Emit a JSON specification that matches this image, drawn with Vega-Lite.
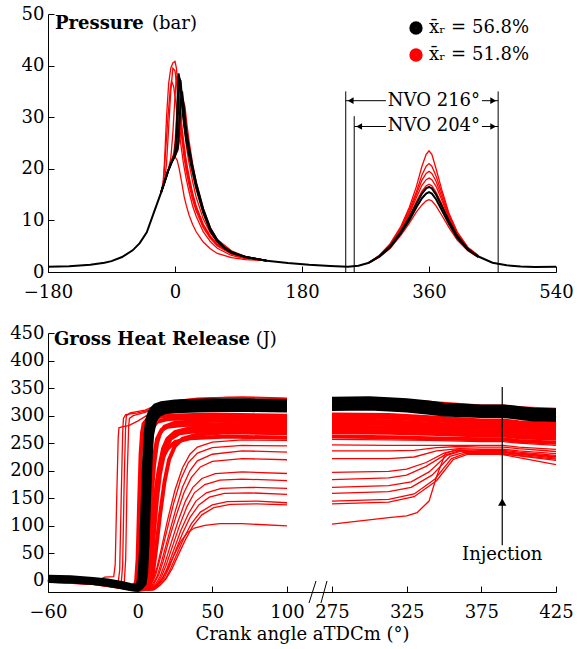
{
"$schema": "https://vega.github.io/schema/vega-lite/v6.json",
"padding": {"left": 9, "top": 5, "right": 5, "bottom": 5},
"spacing": 23,
"config": {
 "view": {"stroke": null},
 "font": "DejaVu Serif",
 "axis": {"grid": false, "labelFont": "DejaVu Serif", "labelFontSize": 18, "labelColor": "black", "domainColor": "black", "tickColor": "black", "tickSize": -6, "titleFont": "DejaVu Serif", "titleFontSize": 18, "titleFontWeight": "normal", "titleColor": "black", "labelFlush": false, "labelOverlap": false},
 "axisY": {"labelPadding": 10},
 "axisX": {"labelPadding": 17, "titlePadding": 4}
},
"datasets": {
"tk": [
{"c":"K1","x":-180,"y":1.0},{"c":"K1","x":-150,"y":1.1},{"c":"K1","x":-120,"y":1.4},{"c":"K1","x":-100,"y":1.8},{"c":"K1","x":-90,"y":2.1},{"c":"K1","x":-75,"y":2.9},{"c":"K1","x":-60,"y":4.2},{"c":"K1","x":-50,"y":5.6},{"c":"K1","x":-40,"y":7.7},{"c":"K1","x":-30,"y":11.5},{"c":"K1","x":-25,"y":13.4},{"c":"K1","x":-20,"y":15.3},
{"c":"K2","x":130,"y":2.2},{"c":"K2","x":160,"y":1.75},{"c":"K2","x":190,"y":1.4},{"c":"K2","x":220,"y":1.15},{"c":"K2","x":245,"y":1.0},{"c":"K2","x":260,"y":1.2},{"c":"K2","x":275,"y":1.8},
{"c":"K3","x":430,"y":3.0},{"c":"K3","x":450,"y":1.8},{"c":"K3","x":470,"y":1.3},{"c":"K3","x":490,"y":1.05},{"c":"K3","x":510,"y":0.95},{"c":"K3","x":540,"y":1.0}
],
"tr": [
{"c":"R1","x":-20,"y":15.3},{"c":"R1","x":-17,"y":17},{"c":"R1","x":-15,"y":21},{"c":"R1","x":-12,"y":30},{"c":"R1","x":-9,"y":36.5},{"c":"R1","x":-6,"y":39.5},{"c":"R1","x":-3,"y":40.5},{"c":"R1","x":0,"y":40.8},{"c":"R1","x":2,"y":39.5},{"c":"R1","x":4,"y":36},{"c":"R1","x":6,"y":32},{"c":"R1","x":8,"y":29},{"c":"R1","x":10,"y":26.3},{"c":"R1","x":13,"y":23},{"c":"R1","x":16,"y":20.3},{"c":"R1","x":20,"y":17.5},{"c":"R1","x":25,"y":14.7},{"c":"R1","x":30,"y":12.4},{"c":"R1","x":40,"y":9},{"c":"R1","x":50,"y":6.8},{"c":"R1","x":60,"y":5.3},{"c":"R1","x":80,"y":3.6},{"c":"R1","x":100,"y":2.8},{"c":"R1","x":130,"y":2.2},
{"c":"R2","x":-20,"y":15.3},{"c":"R2","x":-15,"y":17.5},{"c":"R2","x":-12,"y":21},{"c":"R2","x":-9,"y":28},{"c":"R2","x":-6,"y":35},{"c":"R2","x":-3,"y":39.5},{"c":"R2","x":0,"y":39},{"c":"R2","x":3,"y":35.5},{"c":"R2","x":6,"y":31},{"c":"R2","x":10,"y":25.5},{"c":"R2","x":13,"y":22},{"c":"R2","x":16,"y":19.5},{"c":"R2","x":20,"y":16.8},{"c":"R2","x":25,"y":14},{"c":"R2","x":30,"y":11.8},{"c":"R2","x":40,"y":8.6},{"c":"R2","x":50,"y":6.5},{"c":"R2","x":60,"y":5.1},{"c":"R2","x":80,"y":3.5},{"c":"R2","x":100,"y":2.7},{"c":"R2","x":130,"y":2.2},
{"c":"R3","x":-20,"y":15.3},{"c":"R3","x":-15,"y":17.3},{"c":"R3","x":-10,"y":19.5},{"c":"R3","x":-6,"y":22},{"c":"R3","x":-3,"y":27},{"c":"R3","x":0,"y":34},{"c":"R3","x":2,"y":38},{"c":"R3","x":4,"y":37},{"c":"R3","x":6,"y":34},{"c":"R3","x":10,"y":28},{"c":"R3","x":13,"y":24.5},{"c":"R3","x":16,"y":21.5},{"c":"R3","x":20,"y":18.5},{"c":"R3","x":25,"y":15.3},{"c":"R3","x":30,"y":12.8},{"c":"R3","x":40,"y":9.3},{"c":"R3","x":50,"y":7},{"c":"R3","x":60,"y":5.4},{"c":"R3","x":80,"y":3.7},{"c":"R3","x":100,"y":2.8},{"c":"R3","x":130,"y":2.2},
{"c":"R4","x":-20,"y":15.3},{"c":"R4","x":-15,"y":17.3},{"c":"R4","x":-10,"y":19.5},{"c":"R4","x":-5,"y":21.2},{"c":"R4","x":0,"y":22.5},{"c":"R4","x":4,"y":23.5},{"c":"R4","x":8,"y":27},{"c":"R4","x":10,"y":31},{"c":"R4","x":12,"y":33},{"c":"R4","x":14,"y":32.2},{"c":"R4","x":17,"y":28.5},{"c":"R4","x":20,"y":25.3},{"c":"R4","x":25,"y":21},{"c":"R4","x":30,"y":17.5},{"c":"R4","x":40,"y":12.3},{"c":"R4","x":50,"y":8.6},{"c":"R4","x":60,"y":6.3},{"c":"R4","x":80,"y":4.1},{"c":"R4","x":100,"y":3},{"c":"R4","x":130,"y":2.2},
{"c":"R5","x":-20,"y":15.3},{"c":"R5","x":-15,"y":17.3},{"c":"R5","x":-10,"y":19.5},{"c":"R5","x":-5,"y":21.2},{"c":"R5","x":-2,"y":22},{"c":"R5","x":0,"y":22.3},{"c":"R5","x":3,"y":21.7},{"c":"R5","x":6,"y":20},{"c":"R5","x":10,"y":17},{"c":"R5","x":13,"y":14.6},{"c":"R5","x":16,"y":12.9},{"c":"R5","x":20,"y":11},{"c":"R5","x":25,"y":9.2},{"c":"R5","x":30,"y":7.8},{"c":"R5","x":40,"y":5.8},{"c":"R5","x":50,"y":4.5},{"c":"R5","x":60,"y":3.6},{"c":"R5","x":80,"y":2.8},{"c":"R5","x":100,"y":2.4},{"c":"R5","x":130,"y":2.2},
{"c":"R6","x":-20,"y":15.3},{"c":"R6","x":-15,"y":17.3},{"c":"R6","x":-10,"y":19.5},{"c":"R6","x":-5,"y":21.5},{"c":"R6","x":-2,"y":23},{"c":"R6","x":0,"y":25},{"c":"R6","x":3,"y":31},{"c":"R6","x":6,"y":36},{"c":"R6","x":9,"y":34},{"c":"R6","x":12,"y":29.5},{"c":"R6","x":16,"y":24.5},{"c":"R6","x":20,"y":21},{"c":"R6","x":25,"y":17.5},{"c":"R6","x":30,"y":14.5},{"c":"R6","x":40,"y":10.3},{"c":"R6","x":50,"y":7.6},{"c":"R6","x":60,"y":5.8},{"c":"R6","x":80,"y":3.9},{"c":"R6","x":100,"y":2.9},{"c":"R6","x":130,"y":2.2},
{"c":"R7","x":-20,"y":15.3},{"c":"R7","x":-10,"y":19.5},{"c":"R7","x":-5,"y":21.3},{"c":"R7","x":0,"y":22.6},{"c":"R7","x":3,"y":23.5},{"c":"R7","x":6,"y":26},{"c":"R7","x":8,"y":27},{"c":"R7","x":10,"y":26.5},{"c":"R7","x":13,"y":24},{"c":"R7","x":16,"y":21},{"c":"R7","x":20,"y":18},{"c":"R7","x":25,"y":15},{"c":"R7","x":30,"y":12.5},{"c":"R7","x":40,"y":9},{"c":"R7","x":50,"y":6.7},{"c":"R7","x":60,"y":5.1},{"c":"R7","x":80,"y":3.5},{"c":"R7","x":100,"y":2.7},{"c":"R7","x":130,"y":2.2},
{"c":"R8","x":-20,"y":15.3},{"c":"R8","x":-16,"y":18},{"c":"R8","x":-13,"y":24},{"c":"R8","x":-10,"y":30},{"c":"R8","x":-7,"y":35},{"c":"R8","x":-5,"y":37},{"c":"R8","x":-2,"y":36},{"c":"R8","x":1,"y":33},{"c":"R8","x":4,"y":29.5},{"c":"R8","x":8,"y":25},{"c":"R8","x":12,"y":21},{"c":"R8","x":16,"y":18},{"c":"R8","x":20,"y":15.5},{"c":"R8","x":25,"y":12.8},{"c":"R8","x":30,"y":10.8},{"c":"R8","x":40,"y":7.8},{"c":"R8","x":50,"y":5.9},{"c":"R8","x":60,"y":4.6},{"c":"R8","x":80,"y":3.2},{"c":"R8","x":100,"y":2.6},{"c":"R8","x":130,"y":2.2},
{"c":"N1","x":275,"y":1.8},{"c":"N1","x":290,"y":3.3},{"c":"N1","x":305,"y":5.5},{"c":"N1","x":320,"y":8.8},{"c":"N1","x":332,"y":12.5},{"c":"N1","x":342,"y":16.5},{"c":"N1","x":350,"y":20.5},{"c":"N1","x":356,"y":22.8},{"c":"N1","x":360,"y":23.5},{"c":"N1","x":364,"y":22.8},{"c":"N1","x":370,"y":20},{"c":"N1","x":378,"y":16},{"c":"N1","x":388,"y":11.5},{"c":"N1","x":400,"y":7.8},{"c":"N1","x":415,"y":4.8},{"c":"N1","x":430,"y":3.2},
{"c":"N2","x":275,"y":1.8},{"c":"N2","x":290,"y":3.2},{"c":"N2","x":305,"y":5.3},{"c":"N2","x":320,"y":8.5},{"c":"N2","x":332,"y":12},{"c":"N2","x":342,"y":15.5},{"c":"N2","x":350,"y":18.8},{"c":"N2","x":356,"y":20.5},{"c":"N2","x":360,"y":21},{"c":"N2","x":364,"y":20.5},{"c":"N2","x":370,"y":18.6},{"c":"N2","x":378,"y":15.3},{"c":"N2","x":388,"y":11.2},{"c":"N2","x":400,"y":7.5},{"c":"N2","x":415,"y":4.7},{"c":"N2","x":430,"y":3.1},
{"c":"N3","x":275,"y":1.8},{"c":"N3","x":290,"y":3.2},{"c":"N3","x":305,"y":5.2},{"c":"N3","x":320,"y":8.3},{"c":"N3","x":332,"y":11.5},{"c":"N3","x":342,"y":15},{"c":"N3","x":350,"y":17.8},{"c":"N3","x":356,"y":19.1},{"c":"N3","x":360,"y":19.5},{"c":"N3","x":364,"y":19.1},{"c":"N3","x":370,"y":17.6},{"c":"N3","x":378,"y":14.6},{"c":"N3","x":388,"y":10.8},{"c":"N3","x":400,"y":7.3},{"c":"N3","x":415,"y":4.6},{"c":"N3","x":430,"y":3.1},
{"c":"N4","x":275,"y":1.8},{"c":"N4","x":290,"y":3.1},{"c":"N4","x":305,"y":5.1},{"c":"N4","x":320,"y":8.1},{"c":"N4","x":332,"y":11.2},{"c":"N4","x":342,"y":14.4},{"c":"N4","x":350,"y":16.8},{"c":"N4","x":356,"y":17.9},{"c":"N4","x":360,"y":18.2},{"c":"N4","x":364,"y":17.9},{"c":"N4","x":370,"y":16.6},{"c":"N4","x":378,"y":14},{"c":"N4","x":388,"y":10.5},{"c":"N4","x":400,"y":7.2},{"c":"N4","x":415,"y":4.6},{"c":"N4","x":430,"y":3.1},
{"c":"N5","x":275,"y":1.8},{"c":"N5","x":290,"y":3.1},{"c":"N5","x":305,"y":5},{"c":"N5","x":320,"y":7.9},{"c":"N5","x":332,"y":10.7},{"c":"N5","x":342,"y":13.6},{"c":"N5","x":350,"y":15.7},{"c":"N5","x":356,"y":16.7},{"c":"N5","x":360,"y":17},{"c":"N5","x":364,"y":16.7},{"c":"N5","x":370,"y":15.5},{"c":"N5","x":378,"y":13.2},{"c":"N5","x":388,"y":10.1},{"c":"N5","x":400,"y":7},{"c":"N5","x":415,"y":4.5},{"c":"N5","x":430,"y":3},
{"c":"N6","x":275,"y":1.8},{"c":"N6","x":290,"y":2.9},{"c":"N6","x":305,"y":4.6},{"c":"N6","x":320,"y":7.1},{"c":"N6","x":332,"y":9.4},{"c":"N6","x":342,"y":11.6},{"c":"N6","x":350,"y":13},{"c":"N6","x":356,"y":13.8},{"c":"N6","x":360,"y":14},{"c":"N6","x":364,"y":13.8},{"c":"N6","x":370,"y":12.8},{"c":"N6","x":378,"y":11},{"c":"N6","x":388,"y":8.7},{"c":"N6","x":400,"y":6.2},{"c":"N6","x":415,"y":4.1},{"c":"N6","x":430,"y":2.8}
],
"tb": [
{"c":"B1","x":-20,"y":15.3},{"c":"B1","x":-15,"y":17.3},{"c":"B1","x":-10,"y":19.5},{"c":"B1","x":-5,"y":21.2},{"c":"B1","x":-2,"y":22},{"c":"B1","x":0,"y":22.5},{"c":"B1","x":2,"y":24},{"c":"B1","x":4,"y":30},{"c":"B1","x":6,"y":37.5},{"c":"B1","x":8,"y":37},{"c":"B1","x":10,"y":33.5},{"c":"B1","x":13,"y":29},{"c":"B1","x":16,"y":26},{"c":"B1","x":20,"y":23.5},{"c":"B1","x":25,"y":20},{"c":"B1","x":30,"y":16.8},{"c":"B1","x":40,"y":11.8},{"c":"B1","x":50,"y":8.2},{"c":"B1","x":60,"y":6},{"c":"B1","x":70,"y":4.6},{"c":"B1","x":80,"y":3.8},{"c":"B1","x":100,"y":2.9},{"c":"B1","x":130,"y":2.2},
{"c":"B2","x":-20,"y":15.3},{"c":"B2","x":-10,"y":19.5},{"c":"B2","x":-5,"y":21.2},{"c":"B2","x":0,"y":22.5},{"c":"B2","x":4,"y":24},{"c":"B2","x":6,"y":28},{"c":"B2","x":8,"y":33},{"c":"B2","x":10,"y":35},{"c":"B2","x":13,"y":31.5},{"c":"B2","x":16,"y":27.5},{"c":"B2","x":20,"y":24},{"c":"B2","x":25,"y":20.3},{"c":"B2","x":30,"y":17.2},{"c":"B2","x":40,"y":12.2},{"c":"B2","x":50,"y":8.5},{"c":"B2","x":60,"y":6.2},{"c":"B2","x":70,"y":4.8},{"c":"B2","x":80,"y":3.9},{"c":"B2","x":100,"y":2.9},{"c":"B2","x":130,"y":2.2},
{"c":"B3","x":-20,"y":15.3},{"c":"B3","x":-10,"y":19.5},{"c":"B3","x":-5,"y":21.3},{"c":"B3","x":0,"y":23},{"c":"B3","x":2,"y":27},{"c":"B3","x":4,"y":35},{"c":"B3","x":5,"y":38.5},{"c":"B3","x":7,"y":37},{"c":"B3","x":10,"y":32.5},{"c":"B3","x":13,"y":28.5},{"c":"B3","x":16,"y":25.5},{"c":"B3","x":20,"y":22.5},{"c":"B3","x":25,"y":19.3},{"c":"B3","x":30,"y":16.3},{"c":"B3","x":40,"y":11.5},{"c":"B3","x":50,"y":8},{"c":"B3","x":60,"y":5.9},{"c":"B3","x":70,"y":4.6},{"c":"B3","x":80,"y":3.7},{"c":"B3","x":100,"y":2.9},{"c":"B3","x":130,"y":2.2},
{"c":"BN1","x":275,"y":1.8},{"c":"BN1","x":290,"y":3.1},{"c":"BN1","x":305,"y":5},{"c":"BN1","x":320,"y":7.8},{"c":"BN1","x":332,"y":10.5},{"c":"BN1","x":342,"y":13.2},{"c":"BN1","x":350,"y":15.2},{"c":"BN1","x":356,"y":16.2},{"c":"BN1","x":360,"y":16.5},{"c":"BN1","x":364,"y":16.2},{"c":"BN1","x":370,"y":15},{"c":"BN1","x":378,"y":12.8},{"c":"BN1","x":388,"y":10},{"c":"BN1","x":400,"y":7},{"c":"BN1","x":415,"y":4.5},{"c":"BN1","x":430,"y":3},
{"c":"BN2","x":275,"y":1.8},{"c":"BN2","x":290,"y":3},{"c":"BN2","x":305,"y":4.8},{"c":"BN2","x":320,"y":7.5},{"c":"BN2","x":332,"y":10},{"c":"BN2","x":342,"y":12.5},{"c":"BN2","x":350,"y":14.3},{"c":"BN2","x":356,"y":15.2},{"c":"BN2","x":360,"y":15.5},{"c":"BN2","x":364,"y":15.2},{"c":"BN2","x":370,"y":14.1},{"c":"BN2","x":378,"y":12},{"c":"BN2","x":388,"y":9.4},{"c":"BN2","x":400,"y":6.6},{"c":"BN2","x":415,"y":4.3},{"c":"BN2","x":430,"y":2.9}
],
"bb": [
{"c":"B1a","x":-60,"y":6},{"c":"B1a","x":-45,"y":5},{"c":"B1a","x":-30,"y":2},{"c":"B1a","x":-20,"y":-1},{"c":"B1a","x":-10,"y":-6},{"c":"B1a","x":-5,"y":-9},{"c":"B1a","x":-2,"y":-10},{"c":"B1a","x":0,"y":-9},{"c":"B1a","x":1,"y":-5},{"c":"B1a","x":2,"y":10},{"c":"B1a","x":3,"y":60},{"c":"B1a","x":4,"y":140},{"c":"B1a","x":5,"y":215},{"c":"B1a","x":6,"y":265},{"c":"B1a","x":7,"y":292},{"c":"B1a","x":9,"y":308},{"c":"B1a","x":12,"y":317},{"c":"B1a","x":16,"y":321},{"c":"B1a","x":25,"y":324},{"c":"B1a","x":50,"y":326},{"c":"B1a","x":75,"y":326},{"c":"B1a","x":100,"y":325},
{"c":"B2a","x":-60,"y":4},{"c":"B2a","x":-45,"y":3},{"c":"B2a","x":-30,"y":0},{"c":"B2a","x":-20,"y":-3},{"c":"B2a","x":-10,"y":-8},{"c":"B2a","x":-5,"y":-11},{"c":"B2a","x":-2,"y":-12},{"c":"B2a","x":0,"y":-11},{"c":"B2a","x":2,"y":-6},{"c":"B2a","x":3,"y":5},{"c":"B2a","x":4,"y":40},{"c":"B2a","x":5,"y":110},{"c":"B2a","x":6,"y":190},{"c":"B2a","x":7,"y":250},{"c":"B2a","x":8,"y":283},{"c":"B2a","x":10,"y":302},{"c":"B2a","x":13,"y":311},{"c":"B2a","x":17,"y":315},{"c":"B2a","x":25,"y":317},{"c":"B2a","x":50,"y":319},{"c":"B2a","x":75,"y":318},{"c":"B2a","x":100,"y":318},
{"c":"B3a","x":-60,"y":2},{"c":"B3a","x":-45,"y":1},{"c":"B3a","x":-30,"y":-2},{"c":"B3a","x":-20,"y":-5},{"c":"B3a","x":-10,"y":-10},{"c":"B3a","x":-5,"y":-13},{"c":"B3a","x":-2,"y":-14},{"c":"B3a","x":0,"y":-14},{"c":"B3a","x":2,"y":-11},{"c":"B3a","x":4,"y":-4},{"c":"B3a","x":5,"y":15},{"c":"B3a","x":6,"y":70},{"c":"B3a","x":7,"y":150},{"c":"B3a","x":8,"y":220},{"c":"B3a","x":9,"y":265},{"c":"B3a","x":11,"y":292},{"c":"B3a","x":14,"y":303},{"c":"B3a","x":18,"y":308},{"c":"B3a","x":25,"y":310},{"c":"B3a","x":50,"y":312},{"c":"B3a","x":75,"y":312},{"c":"B3a","x":100,"y":311},
{"c":"B1b","x":275,"y":329},{"c":"B1b","x":300,"y":330},{"c":"B1b","x":313,"y":328},{"c":"B1b","x":325,"y":326},{"c":"B1b","x":340,"y":322},{"c":"B1b","x":350,"y":318},{"c":"B1b","x":375,"y":315},{"c":"B1b","x":390,"y":315},{"c":"B1b","x":400,"y":312},{"c":"B1b","x":410,"y":309},{"c":"B1b","x":425,"y":308},
{"c":"B2b","x":275,"y":321},{"c":"B2b","x":300,"y":322},{"c":"B2b","x":313,"y":320},{"c":"B2b","x":325,"y":318},{"c":"B2b","x":340,"y":314},{"c":"B2b","x":350,"y":311},{"c":"B2b","x":375,"y":308},{"c":"B2b","x":390,"y":308},{"c":"B2b","x":400,"y":305},{"c":"B2b","x":410,"y":302},{"c":"B2b","x":425,"y":301},
{"c":"B3b","x":275,"y":314},{"c":"B3b","x":300,"y":315},{"c":"B3b","x":313,"y":313},{"c":"B3b","x":325,"y":311},{"c":"B3b","x":340,"y":307},{"c":"B3b","x":350,"y":304},{"c":"B3b","x":375,"y":301},{"c":"B3b","x":390,"y":301},{"c":"B3b","x":400,"y":298},{"c":"B3b","x":410,"y":295},{"c":"B3b","x":425,"y":294}
],
"br": [
{"c":"E1a","x":-60,"y":8},{"c":"E1a","x":-40,"y":6},{"c":"E1a","x":-25,"y":3},{"c":"E1a","x":-22,"y":7},{"c":"E1a","x":-16,"y":8},{"c":"E1a","x":-15,"y":30},{"c":"E1a","x":-14,"y":150},{"c":"E1a","x":-13,"y":260},{"c":"E1a","x":-12.5,"y":278},{"c":"E1a","x":-10,"y":280},{"c":"E1a","x":-6,"y":282},{"c":"E1a","x":0,"y":290},{"c":"E1a","x":6,"y":300},{"c":"E1a","x":12,"y":315},{"c":"E1a","x":20,"y":325},{"c":"E1a","x":40,"y":332},{"c":"E1a","x":70,"y":334},{"c":"E1a","x":100,"y":332},
{"c":"E2a","x":-60,"y":7},{"c":"E2a","x":-40,"y":5},{"c":"E2a","x":-20,"y":0},{"c":"E2a","x":-13,"y":-2},{"c":"E2a","x":-12,"y":20},{"c":"E2a","x":-11,"y":150},{"c":"E2a","x":-10,"y":270},{"c":"E2a","x":-9.5,"y":295},{"c":"E2a","x":-8,"y":302},{"c":"E2a","x":0,"y":305},{"c":"E2a","x":8,"y":310},{"c":"E2a","x":15,"y":318},{"c":"E2a","x":30,"y":324},{"c":"E2a","x":60,"y":327},{"c":"E2a","x":100,"y":326},
{"c":"E3a","x":-60,"y":5},{"c":"E3a","x":-40,"y":3},{"c":"E3a","x":-20,"y":-2},{"c":"E3a","x":-11,"y":-5},{"c":"E3a","x":-10,"y":30},{"c":"E3a","x":-9,"y":180},{"c":"E3a","x":-8,"y":285},{"c":"E3a","x":-7.5,"y":300},{"c":"E3a","x":-5,"y":305},{"c":"E3a","x":5,"y":310},{"c":"E3a","x":15,"y":322},{"c":"E3a","x":30,"y":329},{"c":"E3a","x":60,"y":333},{"c":"E3a","x":100,"y":331},
{"c":"E4a","x":-60,"y":6},{"c":"E4a","x":-40,"y":4},{"c":"E4a","x":-20,"y":-1},{"c":"E4a","x":-9,"y":-6},{"c":"E4a","x":-8,"y":40},{"c":"E4a","x":-7,"y":190},{"c":"E4a","x":-6,"y":280},{"c":"E4a","x":-5.5,"y":295},{"c":"E4a","x":-3,"y":300},{"c":"E4a","x":5,"y":306},{"c":"E4a","x":15,"y":318},{"c":"E4a","x":30,"y":324},{"c":"E4a","x":60,"y":327},{"c":"E4a","x":100,"y":326},
{"c":"M6a","x":-60,"y":3},{"c":"M6a","x":-30,"y":-1},{"c":"M6a","x":-10,"y":-8},{"c":"M6a","x":-5,"y":-11},{"c":"M6a","x":0,"y":-12},{"c":"M6a","x":2,"y":-6},{"c":"M6a","x":4,"y":20},{"c":"M6a","x":5,"y":80},{"c":"M6a","x":6,"y":160},{"c":"M6a","x":7,"y":220},{"c":"M6a","x":8,"y":255},{"c":"M6a","x":10,"y":278},{"c":"M6a","x":13,"y":289},{"c":"M6a","x":20,"y":294},{"c":"M6a","x":50,"y":296},{"c":"M6a","x":100,"y":295},
{"c":"M1a","x":-60,"y":3},{"c":"M1a","x":-30,"y":0},{"c":"M1a","x":-10,"y":-7},{"c":"M1a","x":-5,"y":-10},{"c":"M1a","x":-2,"y":-10},{"c":"M1a","x":-1,"y":0},{"c":"M1a","x":0,"y":40},{"c":"M1a","x":1,"y":140},{"c":"M1a","x":2,"y":230},{"c":"M1a","x":3,"y":270},{"c":"M1a","x":4,"y":285},{"c":"M1a","x":6,"y":292},{"c":"M1a","x":10,"y":296},{"c":"M1a","x":20,"y":300},{"c":"M1a","x":50,"y":302},{"c":"M1a","x":100,"y":300},
{"c":"M2a","x":-60,"y":3},{"c":"M2a","x":-30,"y":-1},{"c":"M2a","x":-10,"y":-9},{"c":"M2a","x":-5,"y":-12},{"c":"M2a","x":0,"y":-13},{"c":"M2a","x":3,"y":-10},{"c":"M2a","x":5,"y":0},{"c":"M2a","x":7,"y":50},{"c":"M2a","x":9,"y":140},{"c":"M2a","x":11,"y":210},{"c":"M2a","x":13,"y":250},{"c":"M2a","x":15,"y":268},{"c":"M2a","x":18,"y":280},{"c":"M2a","x":25,"y":287},{"c":"M2a","x":40,"y":290},{"c":"M2a","x":60,"y":291},{"c":"M2a","x":100,"y":289},
{"c":"M7a","x":-60,"y":3},{"c":"M7a","x":-30,"y":-1},{"c":"M7a","x":-10,"y":-9},{"c":"M7a","x":-5,"y":-12},{"c":"M7a","x":0,"y":-13},{"c":"M7a","x":3,"y":-9},{"c":"M7a","x":5,"y":5},{"c":"M7a","x":7,"y":70},{"c":"M7a","x":9,"y":160},{"c":"M7a","x":11,"y":225},{"c":"M7a","x":13,"y":258},{"c":"M7a","x":16,"y":274},{"c":"M7a","x":20,"y":280},{"c":"M7a","x":30,"y":283},{"c":"M7a","x":60,"y":285},{"c":"M7a","x":100,"y":284},
{"c":"M3a","x":-60,"y":4},{"c":"M3a","x":-30,"y":0},{"c":"M3a","x":-10,"y":-9},{"c":"M3a","x":-5,"y":-13},{"c":"M3a","x":0,"y":-15},{"c":"M3a","x":4,"y":-12},{"c":"M3a","x":6,"y":-5},{"c":"M3a","x":8,"y":20},{"c":"M3a","x":10,"y":80},{"c":"M3a","x":12,"y":150},{"c":"M3a","x":14,"y":200},{"c":"M3a","x":17,"y":240},{"c":"M3a","x":20,"y":258},{"c":"M3a","x":25,"y":270},{"c":"M3a","x":35,"y":277},{"c":"M3a","x":60,"y":280},{"c":"M3a","x":100,"y":278},
{"c":"M8a","x":-60,"y":2},{"c":"M8a","x":-30,"y":-2},{"c":"M8a","x":-10,"y":-10},{"c":"M8a","x":0,"y":-14},{"c":"M8a","x":4,"y":-12},{"c":"M8a","x":7,"y":-3},{"c":"M8a","x":9,"y":25},{"c":"M8a","x":11,"y":90},{"c":"M8a","x":13,"y":150},{"c":"M8a","x":15,"y":195},{"c":"M8a","x":18,"y":235},{"c":"M8a","x":22,"y":258},{"c":"M8a","x":28,"y":268},{"c":"M8a","x":40,"y":272},{"c":"M8a","x":60,"y":274},{"c":"M8a","x":100,"y":273},
{"c":"M4a","x":-60,"y":2},{"c":"M4a","x":-30,"y":-2},{"c":"M4a","x":-10,"y":-10},{"c":"M4a","x":-5,"y":-13},{"c":"M4a","x":0,"y":-15},{"c":"M4a","x":5,"y":-14},{"c":"M4a","x":8,"y":-5},{"c":"M4a","x":10,"y":10},{"c":"M4a","x":12,"y":50},{"c":"M4a","x":15,"y":120},{"c":"M4a","x":18,"y":180},{"c":"M4a","x":21,"y":220},{"c":"M4a","x":25,"y":245},{"c":"M4a","x":30,"y":258},{"c":"M4a","x":40,"y":266},{"c":"M4a","x":60,"y":270},{"c":"M4a","x":100,"y":268},
{"c":"M5a","x":-60,"y":2},{"c":"M5a","x":-30,"y":-2},{"c":"M5a","x":-10,"y":-10},{"c":"M5a","x":0,"y":-13},{"c":"M5a","x":4,"y":-6},{"c":"M5a","x":6,"y":10},{"c":"M5a","x":8,"y":60},{"c":"M5a","x":10,"y":120},{"c":"M5a","x":13,"y":180},{"c":"M5a","x":16,"y":220},{"c":"M5a","x":20,"y":240},{"c":"M5a","x":25,"y":252},{"c":"M5a","x":35,"y":259},{"c":"M5a","x":60,"y":262},{"c":"M5a","x":100,"y":260},
{"c":"S1a","x":-60,"y":2},{"c":"S1a","x":-30,"y":-2},{"c":"S1a","x":-10,"y":-10},{"c":"S1a","x":0,"y":-16},{"c":"S1a","x":5,"y":-16},{"c":"S1a","x":8,"y":-10},{"c":"S1a","x":10,"y":0},{"c":"S1a","x":13,"y":25},{"c":"S1a","x":16,"y":60},{"c":"S1a","x":20,"y":110},{"c":"S1a","x":25,"y":165},{"c":"S1a","x":30,"y":205},{"c":"S1a","x":35,"y":230},{"c":"S1a","x":40,"y":243},{"c":"S1a","x":50,"y":252},{"c":"S1a","x":70,"y":256},{"c":"S1a","x":100,"y":255},
{"c":"S2a","x":-60,"y":1},{"c":"S2a","x":-30,"y":-3},{"c":"S2a","x":-10,"y":-11},{"c":"S2a","x":0,"y":-16},{"c":"S2a","x":6,"y":-14},{"c":"S2a","x":9,"y":-6},{"c":"S2a","x":12,"y":10},{"c":"S2a","x":15,"y":40},{"c":"S2a","x":19,"y":85},{"c":"S2a","x":24,"y":140},{"c":"S2a","x":29,"y":185},{"c":"S2a","x":34,"y":215},{"c":"S2a","x":40,"y":232},{"c":"S2a","x":50,"y":242},{"c":"S2a","x":70,"y":246},{"c":"S2a","x":100,"y":245},
{"c":"S3a","x":-60,"y":1},{"c":"S3a","x":-30,"y":-3},{"c":"S3a","x":-10,"y":-11},{"c":"S3a","x":0,"y":-16},{"c":"S3a","x":7,"y":-14},{"c":"S3a","x":10,"y":-6},{"c":"S3a","x":13,"y":8},{"c":"S3a","x":16,"y":35},{"c":"S3a","x":20,"y":75},{"c":"S3a","x":25,"y":125},{"c":"S3a","x":30,"y":170},{"c":"S3a","x":35,"y":200},{"c":"S3a","x":40,"y":218},{"c":"S3a","x":50,"y":230},{"c":"S3a","x":70,"y":236},{"c":"S3a","x":100,"y":234},
{"c":"S4a","x":-60,"y":0},{"c":"S4a","x":-30,"y":-4},{"c":"S4a","x":-10,"y":-12},{"c":"S4a","x":0,"y":-17},{"c":"S4a","x":8,"y":-14},{"c":"S4a","x":11,"y":-5},{"c":"S4a","x":14,"y":10},{"c":"S4a","x":17,"y":35},{"c":"S4a","x":21,"y":75},{"c":"S4a","x":26,"y":120},{"c":"S4a","x":31,"y":160},{"c":"S4a","x":36,"y":188},{"c":"S4a","x":42,"y":207},{"c":"S4a","x":50,"y":217},{"c":"S4a","x":70,"y":222},{"c":"S4a","x":100,"y":220},
{"c":"S5a","x":-60,"y":0},{"c":"S5a","x":-30,"y":-4},{"c":"S5a","x":-10,"y":-12},{"c":"S5a","x":0,"y":-17},{"c":"S5a","x":8,"y":-15},{"c":"S5a","x":12,"y":-6},{"c":"S5a","x":15,"y":8},{"c":"S5a","x":18,"y":30},{"c":"S5a","x":22,"y":65},{"c":"S5a","x":27,"y":108},{"c":"S5a","x":32,"y":145},{"c":"S5a","x":37,"y":170},{"c":"S5a","x":43,"y":186},{"c":"S5a","x":52,"y":195},{"c":"S5a","x":70,"y":198},{"c":"S5a","x":100,"y":195},
{"c":"S6a","x":-60,"y":0},{"c":"S6a","x":-30,"y":-4},{"c":"S6a","x":-10,"y":-12},{"c":"S6a","x":0,"y":-17},{"c":"S6a","x":9,"y":-15},{"c":"S6a","x":13,"y":-6},{"c":"S6a","x":16,"y":8},{"c":"S6a","x":19,"y":28},{"c":"S6a","x":23,"y":60},{"c":"S6a","x":28,"y":100},{"c":"S6a","x":33,"y":135},{"c":"S6a","x":38,"y":160},{"c":"S6a","x":45,"y":175},{"c":"S6a","x":55,"y":183},{"c":"S6a","x":70,"y":185},{"c":"S6a","x":100,"y":182},
{"c":"S7a","x":-60,"y":-1},{"c":"S7a","x":-30,"y":-5},{"c":"S7a","x":-10,"y":-13},{"c":"S7a","x":0,"y":-17},{"c":"S7a","x":9,"y":-15},{"c":"S7a","x":13,"y":-7},{"c":"S7a","x":17,"y":6},{"c":"S7a","x":20,"y":25},{"c":"S7a","x":24,"y":55},{"c":"S7a","x":29,"y":92},{"c":"S7a","x":34,"y":122},{"c":"S7a","x":39,"y":145},{"c":"S7a","x":46,"y":160},{"c":"S7a","x":56,"y":168},{"c":"S7a","x":75,"y":170},{"c":"S7a","x":100,"y":168},
{"c":"S8a","x":-60,"y":-1},{"c":"S8a","x":-30,"y":-5},{"c":"S8a","x":-10,"y":-13},{"c":"S8a","x":0,"y":-18},{"c":"S8a","x":10,"y":-15},{"c":"S8a","x":14,"y":-7},{"c":"S8a","x":18,"y":6},{"c":"S8a","x":21,"y":24},{"c":"S8a","x":25,"y":52},{"c":"S8a","x":30,"y":86},{"c":"S8a","x":35,"y":115},{"c":"S8a","x":41,"y":138},{"c":"S8a","x":48,"y":152},{"c":"S8a","x":58,"y":159},{"c":"S8a","x":75,"y":160},{"c":"S8a","x":100,"y":157},
{"c":"S9a","x":-60,"y":-1},{"c":"S9a","x":-30,"y":-5},{"c":"S9a","x":-10,"y":-13},{"c":"S9a","x":0,"y":-18},{"c":"S9a","x":10,"y":-16},{"c":"S9a","x":15,"y":-7},{"c":"S9a","x":19,"y":5},{"c":"S9a","x":22,"y":22},{"c":"S9a","x":26,"y":47},{"c":"S9a","x":31,"y":78},{"c":"S9a","x":36,"y":104},{"c":"S9a","x":42,"y":125},{"c":"S9a","x":50,"y":138},{"c":"S9a","x":60,"y":144},{"c":"S9a","x":80,"y":145},{"c":"S9a","x":100,"y":142},
{"c":"S10a","x":-60,"y":-2},{"c":"S10a","x":-30,"y":-6},{"c":"S10a","x":-10,"y":-14},{"c":"S10a","x":0,"y":-18},{"c":"S10a","x":11,"y":-16},{"c":"S10a","x":15,"y":-8},{"c":"S10a","x":19,"y":4},{"c":"S10a","x":23,"y":22},{"c":"S10a","x":27,"y":46},{"c":"S10a","x":32,"y":75},{"c":"S10a","x":37,"y":100},{"c":"S10a","x":43,"y":120},{"c":"S10a","x":51,"y":133},{"c":"S10a","x":62,"y":139},{"c":"S10a","x":80,"y":140},{"c":"S10a","x":100,"y":138},
{"c":"S11a","x":-60,"y":-2},{"c":"S11a","x":-30,"y":-6},{"c":"S11a","x":-10,"y":-14},{"c":"S11a","x":0,"y":-18},{"c":"S11a","x":4,"y":-17},{"c":"S11a","x":10,"y":-12},{"c":"S11a","x":15,"y":-2},{"c":"S11a","x":20,"y":22},{"c":"S11a","x":25,"y":50},{"c":"S11a","x":29,"y":72},{"c":"S11a","x":33,"y":87},{"c":"S11a","x":38,"y":96},{"c":"S11a","x":45,"y":101},{"c":"S11a","x":55,"y":104},{"c":"S11a","x":70,"y":104},{"c":"S11a","x":100,"y":100},
{"c":"E1b","x":275,"y":332},{"c":"E1b","x":313,"y":331},{"c":"E1b","x":340,"y":326},{"c":"E1b","x":375,"y":319},{"c":"E1b","x":390,"y":319},{"c":"E1b","x":400,"y":316},{"c":"E1b","x":425,"y":313},
{"c":"E2b","x":275,"y":328},{"c":"E2b","x":313,"y":327},{"c":"E2b","x":340,"y":322},{"c":"E2b","x":375,"y":315},{"c":"E2b","x":390,"y":315},{"c":"E2b","x":400,"y":312},{"c":"E2b","x":425,"y":308},
{"c":"E3b","x":275,"y":329},{"c":"E3b","x":313,"y":328},{"c":"E3b","x":340,"y":323},{"c":"E3b","x":375,"y":316},{"c":"E3b","x":390,"y":316},{"c":"E3b","x":400,"y":313},{"c":"E3b","x":425,"y":309},
{"c":"E4b","x":275,"y":327},{"c":"E4b","x":313,"y":326},{"c":"E4b","x":340,"y":321},{"c":"E4b","x":375,"y":314},{"c":"E4b","x":390,"y":314},{"c":"E4b","x":400,"y":311},{"c":"E4b","x":425,"y":307},
{"c":"M6b","x":275,"y":297},{"c":"M6b","x":313,"y":296},{"c":"M6b","x":340,"y":292},{"c":"M6b","x":375,"y":286},{"c":"M6b","x":390,"y":286},{"c":"M6b","x":400,"y":283},{"c":"M6b","x":425,"y":280},
{"c":"M1b","x":275,"y":302},{"c":"M1b","x":313,"y":301},{"c":"M1b","x":340,"y":297},{"c":"M1b","x":375,"y":291},{"c":"M1b","x":390,"y":291},{"c":"M1b","x":400,"y":288},{"c":"M1b","x":425,"y":285},
{"c":"M2b","x":275,"y":291},{"c":"M2b","x":313,"y":290},{"c":"M2b","x":340,"y":286},{"c":"M2b","x":375,"y":281},{"c":"M2b","x":390,"y":281},{"c":"M2b","x":400,"y":278},{"c":"M2b","x":425,"y":275},
{"c":"M7b","x":275,"y":286},{"c":"M7b","x":313,"y":285},{"c":"M7b","x":340,"y":281},{"c":"M7b","x":375,"y":276},{"c":"M7b","x":390,"y":276},{"c":"M7b","x":400,"y":273},{"c":"M7b","x":425,"y":270},
{"c":"M3b","x":275,"y":280},{"c":"M3b","x":313,"y":279},{"c":"M3b","x":340,"y":276},{"c":"M3b","x":375,"y":272},{"c":"M3b","x":390,"y":272},{"c":"M3b","x":400,"y":269},{"c":"M3b","x":425,"y":266},
{"c":"M8b","x":275,"y":275},{"c":"M8b","x":313,"y":274},{"c":"M8b","x":340,"y":271},{"c":"M8b","x":375,"y":268},{"c":"M8b","x":390,"y":268},{"c":"M8b","x":400,"y":265},{"c":"M8b","x":425,"y":262},
{"c":"M4b","x":275,"y":270},{"c":"M4b","x":313,"y":269},{"c":"M4b","x":340,"y":267},{"c":"M4b","x":375,"y":264},{"c":"M4b","x":390,"y":264},{"c":"M4b","x":400,"y":261},{"c":"M4b","x":425,"y":258},
{"c":"M5b","x":275,"y":262},{"c":"M5b","x":313,"y":261},{"c":"M5b","x":340,"y":259},{"c":"M5b","x":375,"y":257},{"c":"M5b","x":390,"y":257},{"c":"M5b","x":400,"y":254},{"c":"M5b","x":425,"y":251},
{"c":"S1b","x":275,"y":257},{"c":"S1b","x":313,"y":256},{"c":"S1b","x":340,"y":255},{"c":"S1b","x":375,"y":253},{"c":"S1b","x":390,"y":253},{"c":"S1b","x":400,"y":250},{"c":"S1b","x":425,"y":246},
{"c":"S2b","x":275,"y":247},{"c":"S2b","x":313,"y":246},{"c":"S2b","x":340,"y":246},{"c":"S2b","x":375,"y":246},{"c":"S2b","x":390,"y":246},{"c":"S2b","x":400,"y":243},{"c":"S2b","x":425,"y":239},
{"c":"S3b","x":275,"y":236},{"c":"S3b","x":313,"y":236},{"c":"S3b","x":330,"y":237},{"c":"S3b","x":345,"y":242},{"c":"S3b","x":360,"y":244},{"c":"S3b","x":375,"y":243},{"c":"S3b","x":390,"y":243},{"c":"S3b","x":400,"y":240},{"c":"S3b","x":425,"y":235},
{"c":"S4b","x":275,"y":222},{"c":"S4b","x":313,"y":222},{"c":"S4b","x":330,"y":225},{"c":"S4b","x":345,"y":236},{"c":"S4b","x":360,"y":240},{"c":"S4b","x":375,"y":239},{"c":"S4b","x":390,"y":239},{"c":"S4b","x":400,"y":236},{"c":"S4b","x":425,"y":231},
{"c":"S5b","x":275,"y":197},{"c":"S5b","x":313,"y":199},{"c":"S5b","x":325,"y":203},{"c":"S5b","x":338,"y":215},{"c":"S5b","x":350,"y":232},{"c":"S5b","x":360,"y":238},{"c":"S5b","x":375,"y":237},{"c":"S5b","x":390,"y":237},{"c":"S5b","x":400,"y":234},{"c":"S5b","x":425,"y":228},
{"c":"S6b","x":275,"y":184},{"c":"S6b","x":313,"y":187},{"c":"S6b","x":325,"y":192},{"c":"S6b","x":338,"y":208},{"c":"S6b","x":350,"y":228},{"c":"S6b","x":360,"y":236},{"c":"S6b","x":375,"y":235},{"c":"S6b","x":390,"y":235},{"c":"S6b","x":400,"y":232},{"c":"S6b","x":425,"y":226},
{"c":"S7b","x":275,"y":170},{"c":"S7b","x":313,"y":173},{"c":"S7b","x":328,"y":180},{"c":"S7b","x":340,"y":198},{"c":"S7b","x":352,"y":228},{"c":"S7b","x":362,"y":236},{"c":"S7b","x":375,"y":234},{"c":"S7b","x":390,"y":234},{"c":"S7b","x":400,"y":231},{"c":"S7b","x":425,"y":225},
{"c":"S8b","x":275,"y":159},{"c":"S8b","x":313,"y":162},{"c":"S8b","x":328,"y":170},{"c":"S8b","x":342,"y":192},{"c":"S8b","x":354,"y":226},{"c":"S8b","x":364,"y":234},{"c":"S8b","x":375,"y":233},{"c":"S8b","x":390,"y":233},{"c":"S8b","x":400,"y":230},{"c":"S8b","x":425,"y":223},
{"c":"S9b","x":275,"y":145},{"c":"S9b","x":313,"y":148},{"c":"S9b","x":330,"y":158},{"c":"S9b","x":344,"y":185},{"c":"S9b","x":355,"y":222},{"c":"S9b","x":365,"y":232},{"c":"S9b","x":375,"y":231},{"c":"S9b","x":390,"y":231},{"c":"S9b","x":400,"y":228},{"c":"S9b","x":425,"y":221},
{"c":"S10b","x":275,"y":140},{"c":"S10b","x":313,"y":143},{"c":"S10b","x":330,"y":153},{"c":"S10b","x":345,"y":182},{"c":"S10b","x":356,"y":220},{"c":"S10b","x":366,"y":230},{"c":"S10b","x":375,"y":230},{"c":"S10b","x":390,"y":230},{"c":"S10b","x":400,"y":227},{"c":"S10b","x":425,"y":219},
{"c":"S11b","x":275,"y":103},{"c":"S11b","x":313,"y":115},{"c":"S11b","x":325,"y":118},{"c":"S11b","x":332,"y":124},{"c":"S11b","x":340,"y":145},{"c":"S11b","x":345,"y":189},{"c":"S11b","x":351,"y":232},{"c":"S11b","x":358,"y":238},{"c":"S11b","x":375,"y":233},{"c":"S11b","x":390,"y":229},{"c":"S11b","x":400,"y":224},{"c":"S11b","x":425,"y":211}
]
},
"vconcat": [
{
 "width": 508, "height": 258,
 "layer": [
  {"data": {"name": "tr"}, "mark": {"type": "line", "strokeWidth": 1.3},
   "encoding": {
    "x": {"field": "x", "type": "quantitative", "scale": {"domain": [-180, 540], "nice": false}, "axis": {"values": [-180, 0, 180, 360, 540], "tickCount": 20, "title": null, "labelOverlap": false}},
    "y": {"field": "y", "type": "quantitative", "scale": {"domain": [0, 50], "nice": false}, "axis": {"values": [0, 10, 20, 30, 40, 50], "tickCount": 20, "title": null, "labelOverlap": false}},
    "detail": {"field": "c"},
    "color": {"datum": "x̄ᵣ = 51.8%", "scale": {"domain": ["x̄ᵣ = 56.8%", "x̄ᵣ = 51.8%"], "range": ["black", "red"]},
      "legend": {"title": null, "orient": "none", "legendX": 359, "legendY": 5, "symbolType": "circle", "symbolSize": 40, "symbolStrokeWidth": 7, "labelFont": "DejaVu Serif", "labelFontSize": 18, "labelColor": "black", "labelOffset": 4, "rowPadding": -12, "padding": 0}}
   }},
  {"data": {"name": "tk"}, "mark": {"type": "line", "strokeWidth": 2},
   "encoding": {"x": {"field": "x", "type": "quantitative"}, "y": {"field": "y", "type": "quantitative"}, "detail": {"field": "c"}, "color": {"datum": "x̄ᵣ = 56.8%"}}},
  {"data": {"name": "tb"}, "mark": {"type": "line", "strokeWidth": 2},
   "encoding": {"x": {"field": "x", "type": "quantitative"}, "y": {"field": "y", "type": "quantitative"}, "detail": {"field": "c"}, "color": {"datum": "x̄ᵣ = 56.8%"}}},
  {"data": {"values": [{"a": 242, "t": 35}, {"a": 254, "t": 30.2}, {"a": 458, "t": 35}]}, "mark": {"type": "rule", "color": "black", "strokeWidth": 1},
   "encoding": {"x": {"field": "a", "type": "quantitative"}, "y": {"field": "t", "type": "quantitative"}, "y2": {"datum": 0}}},
  {"data": {"values": [{"a": 242, "b": 299, "h": 33.2}, {"a": 435, "b": 458, "h": 33.2}, {"a": 254, "b": 299, "h": 28.2}, {"a": 435, "b": 458, "h": 28.2}]}, "mark": {"type": "rule", "color": "black", "strokeWidth": 1},
   "encoding": {"x": {"field": "a", "type": "quantitative"}, "x2": {"field": "b"}, "y": {"field": "h", "type": "quantitative"}}},
  {"data": {"values": [{"a": 249, "h": 33.2}, {"a": 261, "h": 28.2}]}, "mark": {"type": "point", "shape": "triangle-left", "filled": true, "color": "black", "size": 45, "opacity": 1},
   "encoding": {"x": {"field": "a", "type": "quantitative"}, "y": {"field": "h", "type": "quantitative"}}},
  {"data": {"values": [{"a": 451, "h": 33.2}, {"a": 451, "h": 28.2}]}, "mark": {"type": "point", "shape": "triangle-right", "filled": true, "color": "black", "size": 45, "opacity": 1},
   "encoding": {"x": {"field": "a", "type": "quantitative"}, "y": {"field": "h", "type": "quantitative"}}},
  {"data": {"values": [{"a": 367, "h": 33.2, "t": "NVO 216°"}, {"a": 367, "h": 28.2, "t": "NVO 204°"}]}, "mark": {"type": "text", "font": "DejaVu Serif", "fontSize": 18, "align": "center", "baseline": "middle", "color": "black"},
   "encoding": {"x": {"field": "a", "type": "quantitative"}, "y": {"field": "h", "type": "quantitative"}, "text": {"field": "t"}}},
  {"data": {"values": [{}]}, "mark": {"type": "text", "text": "Pressure", "font": "DejaVu Serif", "fontWeight": "bold", "fontSize": 18, "align": "left", "baseline": "middle", "color": "black"},
   "encoding": {"x": {"datum": -170}, "y": {"datum": 48}}},
  {"data": {"values": [{}]}, "mark": {"type": "text", "text": "(bar)", "font": "DejaVu Serif", "fontSize": 18, "align": "left", "baseline": "middle", "color": "black"},
   "encoding": {"x": {"datum": -32.6}, "y": {"datum": 48}}}
 ]
},
{
 "width": 508, "height": 259,
 "layer": [
  {"data": {"name": "br"}, "transform": [{"filter": "test(/^M/, datum.c)"}], "mark": {"type": "line", "strokeWidth": 4, "color": "red"},
   "encoding": {
    "x": {"field": "x", "type": "quantitative", "scale": {"domain": [-60, 100, 275, 425], "range": [0, 239, 284, 508], "nice": false}, "axis": {"values": [-60, 0, 50, 100, 275, 325, 375, 425], "tickCount": 20, "title": "Crank angle aTDCm (°)", "labelOverlap": false}},
    "y": {"field": "y", "type": "quantitative", "scale": {"domain": [-20, 450], "nice": false}, "axis": {"values": [0, 50, 100, 150, 200, 250, 300, 350, 400, 450], "tickCount": 20, "title": null, "labelOverlap": false}},
    "detail": {"field": "c"}
   }},
  {"data": {"name": "br"}, "transform": [{"filter": "!test(/^M/, datum.c)"}], "mark": {"type": "line", "strokeWidth": 1.3, "color": "red"},
   "encoding": {"x": {"field": "x", "type": "quantitative"}, "y": {"field": "y", "type": "quantitative"}, "detail": {"field": "c"}}},
  {"data": {"name": "bb"}, "mark": {"type": "line", "strokeWidth": 6, "color": "black"},
   "encoding": {"x": {"field": "x", "type": "quantitative"}, "y": {"field": "y", "type": "quantitative"}, "detail": {"field": "c"}}},
  {"data": {"values": [{}]}, "mark": {"type": "rule", "color": "black", "strokeWidth": 1.2},
   "encoding": {"x": {"datum": 389}, "y": {"datum": 65}, "y2": {"datum": 352}}},
  {"data": {"values": [{}]}, "mark": {"type": "point", "shape": "triangle-up", "filled": true, "color": "black", "size": 70, "opacity": 1},
   "encoding": {"x": {"datum": 389}, "y": {"datum": 143}}},
  {"data": {"values": [{}]}, "mark": {"type": "text", "text": "Injection", "font": "DejaVu Serif", "fontSize": 18, "align": "center", "baseline": "middle", "color": "black"},
   "encoding": {"x": {"datum": 389}, "y": {"datum": 47}}},
  {"data": {"values": [{"a": 185.6, "b": 212.8}, {"a": 232, "b": 255.6}]}, "mark": {"type": "rule", "color": "black", "strokeWidth": 1},
   "encoding": {"x": {"field": "a", "type": "quantitative"}, "x2": {"field": "b"}, "y": {"datum": -40}, "y2": {"datum": 0}}},
  {"data": {"values": [{}]}, "mark": {"type": "text", "text": "Gross Heat Release", "font": "DejaVu Serif", "fontWeight": "bold", "fontSize": 18, "align": "left", "baseline": "middle", "color": "black"},
   "encoding": {"x": {"datum": -56}, "y": {"datum": 437}}},
  {"data": {"values": [{}]}, "mark": {"type": "text", "text": "(J)", "font": "DejaVu Serif", "fontSize": 18, "align": "left", "baseline": "middle", "color": "black"},
   "encoding": {"x": {"datum": 79}, "y": {"datum": 437}}}
 ]
}
]
}
